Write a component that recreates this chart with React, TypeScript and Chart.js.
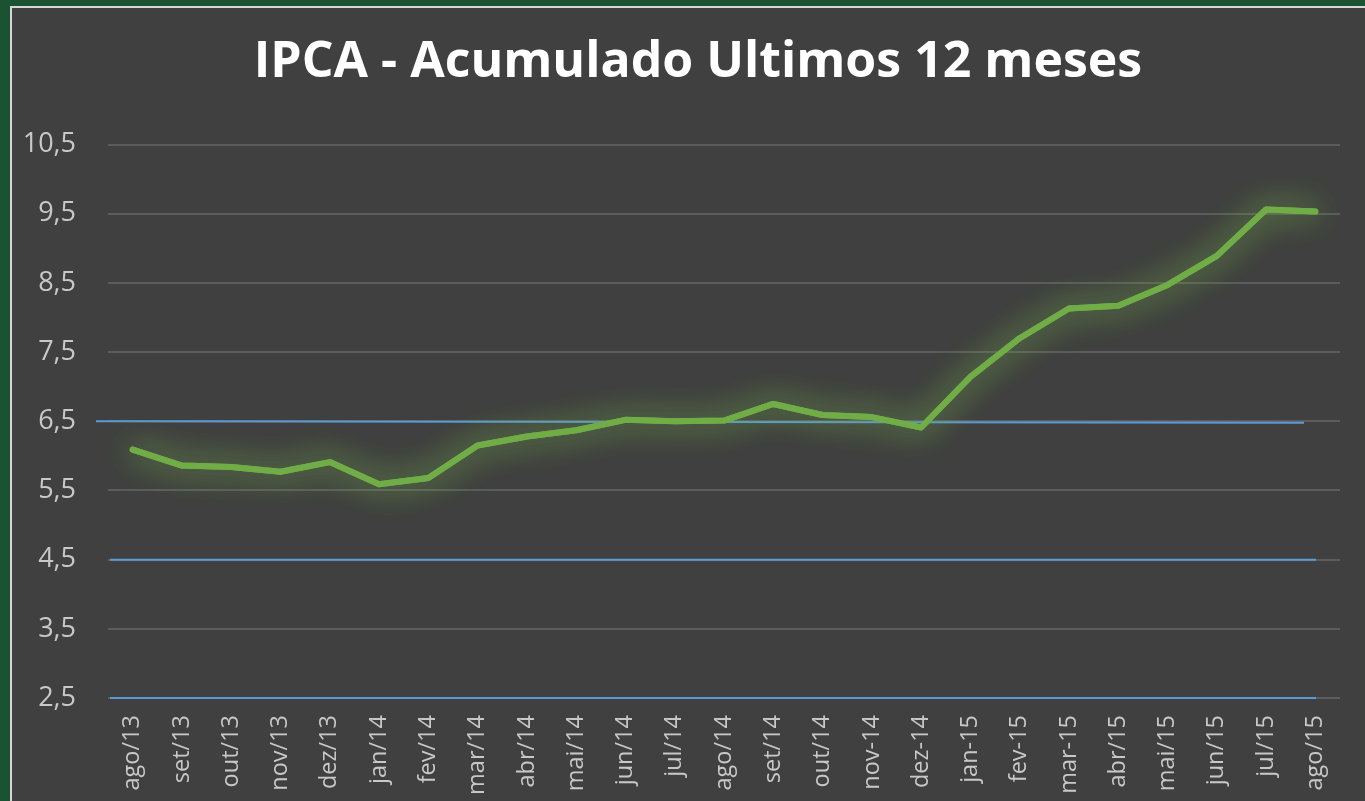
import React, { useEffect, useRef } from "react";
import { Chart, registerables } from "chart.js";

Chart.register(...registerables);

const titleText = "IPCA - Acumulado Ultimos 12 meses";
const months = [
  "ago/13", "set/13", "out/13", "nov/13", "dez/13", "jan/14", "fev/14", "mar/14",
  "abr/14", "mai/14", "jun/14", "jul/14", "ago/14", "set/14", "out/14", "nov-14",
  "dez-14", "jan-15", "fev-15", "mar-15", "abr/15", "mai/15", "jun/15", "jul/15", "ago/15",
];
const ipca = [
  6.09, 5.86, 5.84, 5.77, 5.91, 5.59, 5.68, 6.15,
  6.28, 6.37, 6.52, 6.50, 6.51, 6.75, 6.59, 6.56,
  6.41, 7.14, 7.70, 8.13, 8.17, 8.47, 8.89, 9.56, 9.53,
];
const targetLines = [6.5, 4.5, 2.5];
const yMin = 2.5;
const yMax = 10.5;
const yStep = 1;

const targetPlugin = {
  id: "targetLines",
  beforeDatasetsDraw(chart: any) {
    const { ctx, chartArea, scales } = chart;
    const y = scales.y;
    ctx.save();
    ctx.strokeStyle = "#5b9bd5";
    ctx.lineWidth = 2;
    targetLines.forEach((v, i) => {
      const py = y.getPixelForValue(v);
      const x0 = chartArea.left + (i === 0 ? -12 : 2);
      const x1 = chartArea.right - (i === 0 ? 36 : 24);
      ctx.beginPath();
      ctx.moveTo(x0, py);
      ctx.lineTo(x1, i === 0 ? py + 1.5 : py);
      ctx.stroke();
    });
    ctx.restore();
  },
};

const glowPlugin = {
  id: "glow",
  beforeDatasetDraw(chart: any) {
    const ctx = chart.ctx;
    ctx.save();
    ctx.shadowColor = "rgba(112, 173, 71, 0.8)";
    ctx.shadowBlur = 32;
    ctx.shadowOffsetX = 0;
    ctx.shadowOffsetY = 0;
  },
  afterDatasetDraw(chart: any, args: any) {
    const meta = args.meta;
    if (meta && meta.dataset) meta.dataset.draw(chart.ctx, chart.chartArea);
    chart.ctx.restore();
  },
};

export default function App() {
  const ref = useRef<HTMLCanvasElement | null>(null);

  useEffect(() => {
    if (!ref.current) return;
    const chart = new Chart(ref.current, {
      type: "line",
      data: {
        labels: months,
        datasets: [
          {
            label: "IPCA",
            data: ipca,
            borderColor: "#70ad47",
            borderWidth: 6,
            pointRadius: 0,
            tension: 0,
            borderCapStyle: "round",
            borderJoinStyle: "round",
            fill: false,
            yAxisID: "y",
          },
        ],
      },
      options: {
        animation: false,
        responsive: false,
        maintainAspectRatio: false,
        layout: { padding: { left: 6, right: 4, top: 0, bottom: 0 } },
        plugins: {
          legend: { display: false },
          tooltip: { enabled: false },
          title: {
            display: true,
            text: titleText,
            color: "#ffffff",
            font: { family: "'Open Sans'", size: 50, weight: "bold" },
            padding: { top: 24.5, bottom: 52 },
          },
        },
        scales: {
          x: {
            offset: true,
            grid: { display: false, drawTicks: false },
            border: { display: false },
            ticks: {
              color: "#c8c8c8",
              font: { family: "'Open Sans'", size: 23.5 },
              maxRotation: 90,
              minRotation: 90,
              autoSkip: false,
              padding: 17,
            },
            afterFit: (s: any) => {
              s.height = 103;
            },
          },
          y: {
            min: yMin,
            max: yMax,
            grid: { color: "#5c5c5c", lineWidth: 2, drawTicks: false },
            border: { display: false },
            ticks: {
              stepSize: yStep,
              color: "#c8c8c8",
              padding: 32,
              font: { family: "'Open Sans'", size: 27 },
              callback: (v: any) => Number(v).toFixed(1).replace(".", ","),
            },
            afterFit: (s: any) => {
              s.width = 90;
            },
          },
          yRight: {
            position: "right",
            display: true,
            grid: { display: false, drawTicks: false },
            border: { display: false },
            ticks: { display: false },
            afterFit: (s: any) => {
              s.width = 38;
            },
          },
        },
      },
      plugins: [targetPlugin, glowPlugin],
    });
    return () => chart.destroy();
  }, []);

  return (
    <div style={{ position: "fixed", left: 0, top: 0, width: 1365, height: 801, background: "#1a5232", overflow: "hidden" }}>
      <div
        style={{
          position: "absolute",
          left: 10,
          top: 6,
          width: 1400,
          height: 820,
          background: "#404040",
          borderLeft: "2px solid #d6d6d6",
          borderTop: "2px solid #d6d6d6",
        }}
      >
        <canvas ref={ref} width={1370} height={793} style={{ display: "block" }} />
      </div>
    </div>
  );
}
